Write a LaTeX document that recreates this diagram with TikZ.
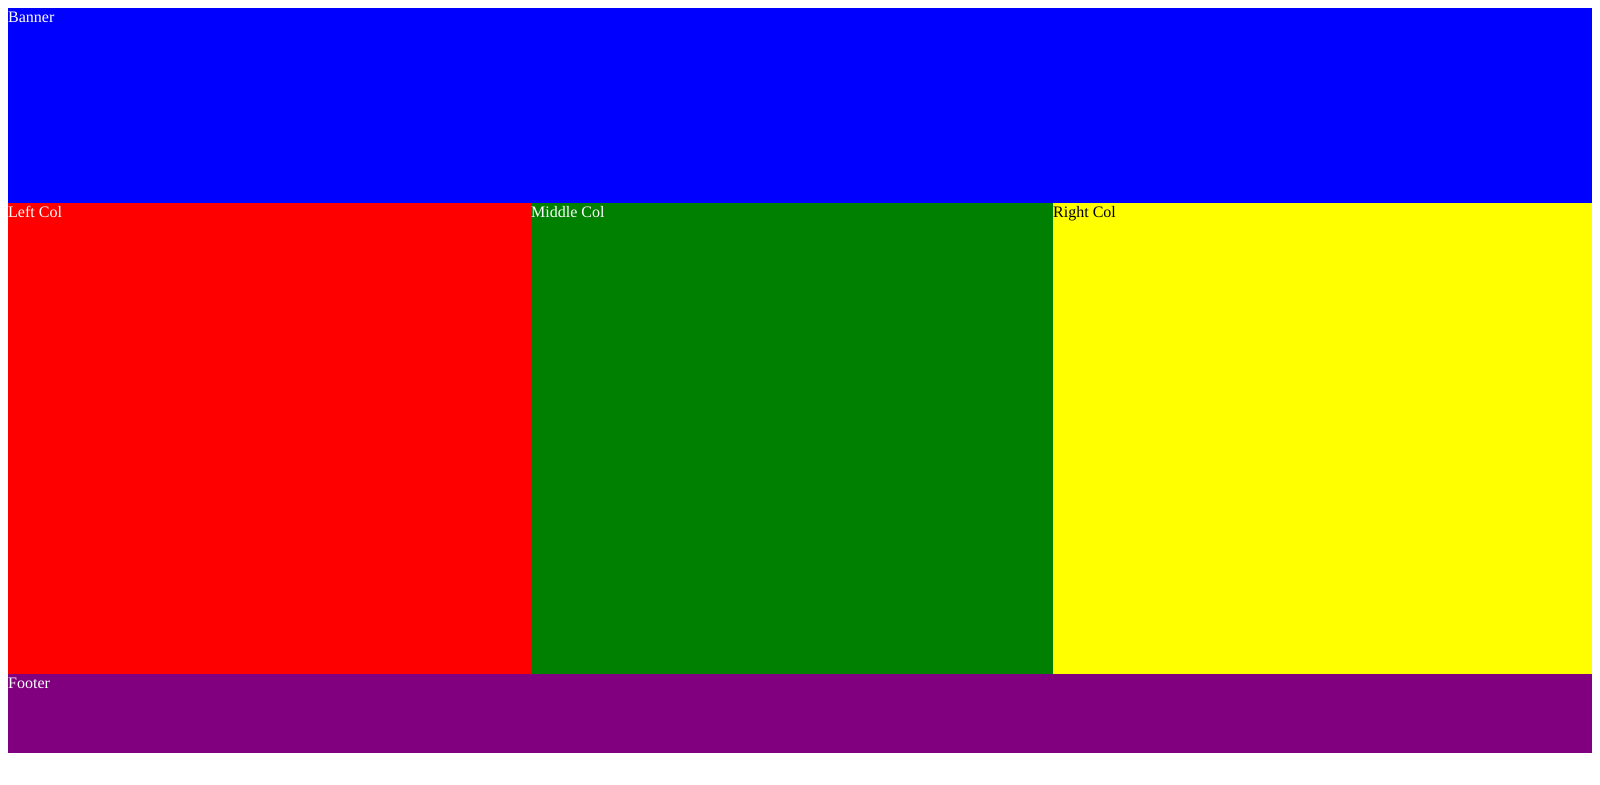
\documentclass[tikz,border=0pt]{standalone}
\usepackage{fontspec}
\setmainfont{Liberation Serif}
\definecolor{cpurple}{RGB}{128,0,128}
\definecolor{cgreen}{RGB}{0,128,0}
\definecolor{cyellow}{RGB}{255,255,0}
\definecolor{cblue}{RGB}{0,0,255}
\definecolor{cred}{RGB}{255,0,0}
\begin{document}
\begin{tikzpicture}[x=1pt,y=-1pt,
  lbl/.style={anchor=base west,inner sep=0pt,font=\fontsize{16}{18}\selectfont}]
\useasboundingbox (0,0) rectangle (1600,784);
\fill[white] (0,0) rectangle (1600,784);
\fill[cblue] (8,8) rectangle (1592,203);
\fill[cred] (8,203) rectangle (531,674);
\fill[cgreen] (531,203) rectangle (1053,674);
\fill[cyellow] (1053,203) rectangle (1592,674);
\fill[cpurple] (8,674) rectangle (1592,753);
\node[lbl,text=white] (banner) at (8,22.5) {Banner};
\node[lbl,text=white] (left) at (8,217.5) {Left Col};
\node[lbl,text=white] (middle) at (531,217.5) {Middle Col};
\node[lbl,text=black] (right) at (1053,217.5) {Right Col};
\node[lbl,text=white] (footer) at (8,688.5) {Footer};
\end{tikzpicture}
\end{document}
